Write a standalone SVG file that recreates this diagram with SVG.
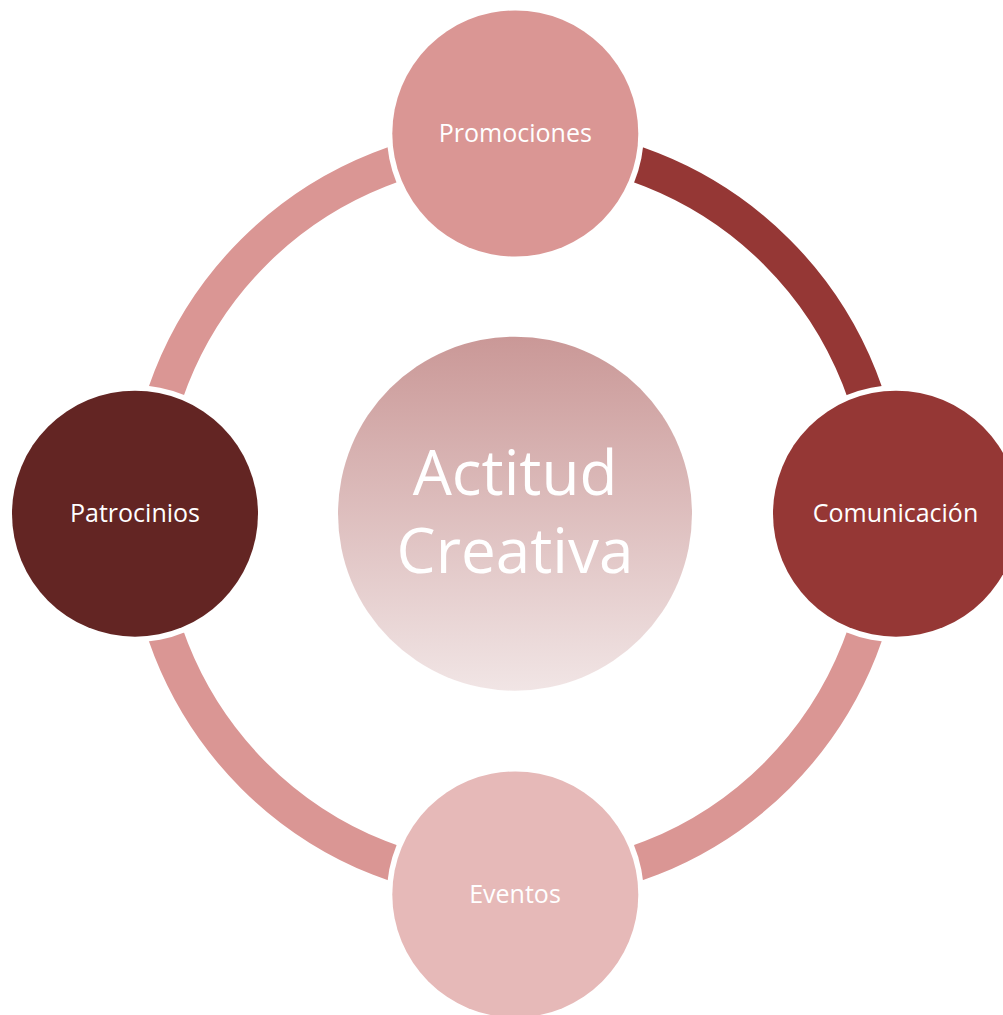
<svg xmlns="http://www.w3.org/2000/svg" width="1003" height="1015" viewBox="0 0 1003 1015">
  <defs>
    <linearGradient id="centerGrad" x1="0" y1="0" x2="0" y2="1">
      <stop offset="0" stop-color="#CA9897"/>
      <stop offset="1" stop-color="#F1E5E5"/>
    </linearGradient>
  </defs>
  <style>
    .ring { fill: none; stroke-width: 36; stroke-linecap: butt; }
    .halo { fill: #FFFFFF; }
    .lbl { font-family: "Open Sans", "Noto Sans", "Liberation Sans", sans-serif; font-size: 25px; fill: #FFFFFF; text-anchor: middle; }
    .big { font-family: "Open Sans", "Noto Sans", "Liberation Sans", sans-serif; font-size: 62px; fill: #FFFFFF; text-anchor: middle; }
  </style>
  <rect width="1003" height="1015" fill="#FFFFFF"/>

  <g id="connectors">
    <path class="ring" stroke="#953735" d="M 515.3 143.8 A 370 370 0 0 1 885.3 513.8"/>
    <path class="ring" stroke="#DA9694" d="M 885.3 513.8 A 370 370 0 0 1 515.3 883.8"/>
    <path class="ring" stroke="#DA9694" d="M 515.3 883.8 A 370 370 0 0 1 145.3 513.8"/>
    <path class="ring" stroke="#DA9694" d="M 145.3 513.8 A 370 370 0 0 1 515.3 143.8"/>
  </g>

  <g id="center">
    <circle cx="515" cy="513.7" r="177" fill="url(#centerGrad)"/>
    <text class="big" x="515" y="495">Actitud</text>
    <text class="big" x="515" y="573">Creativa</text>
  </g>

  <g id="node-promociones">
    <circle class="halo" cx="515.3" cy="133.5" r="128.5"/>
    <circle cx="515.3" cy="133.5" r="123" fill="#DA9694"/>
    <text class="lbl" x="515.3" y="142">Promociones</text>
  </g>

  <g id="node-comunicacion">
    <circle class="halo" cx="896" cy="513.7" r="128.5"/>
    <circle cx="896" cy="513.7" r="123" fill="#953735"/>
    <text class="lbl" x="895.5" y="522.3">Comunicación</text>
  </g>

  <g id="node-eventos">
    <circle class="halo" cx="515.3" cy="894.5" r="128.5"/>
    <circle cx="515.3" cy="894.5" r="123" fill="#E6B9B8"/>
    <text class="lbl" x="515" y="903.3">Eventos</text>
  </g>

  <g id="node-patrocinios">
    <circle class="halo" cx="135" cy="513.7" r="128.5"/>
    <circle cx="135" cy="513.7" r="123" fill="#632523"/>
    <text class="lbl" x="135" y="522.3">Patrocinios</text>
  </g>
</svg>
